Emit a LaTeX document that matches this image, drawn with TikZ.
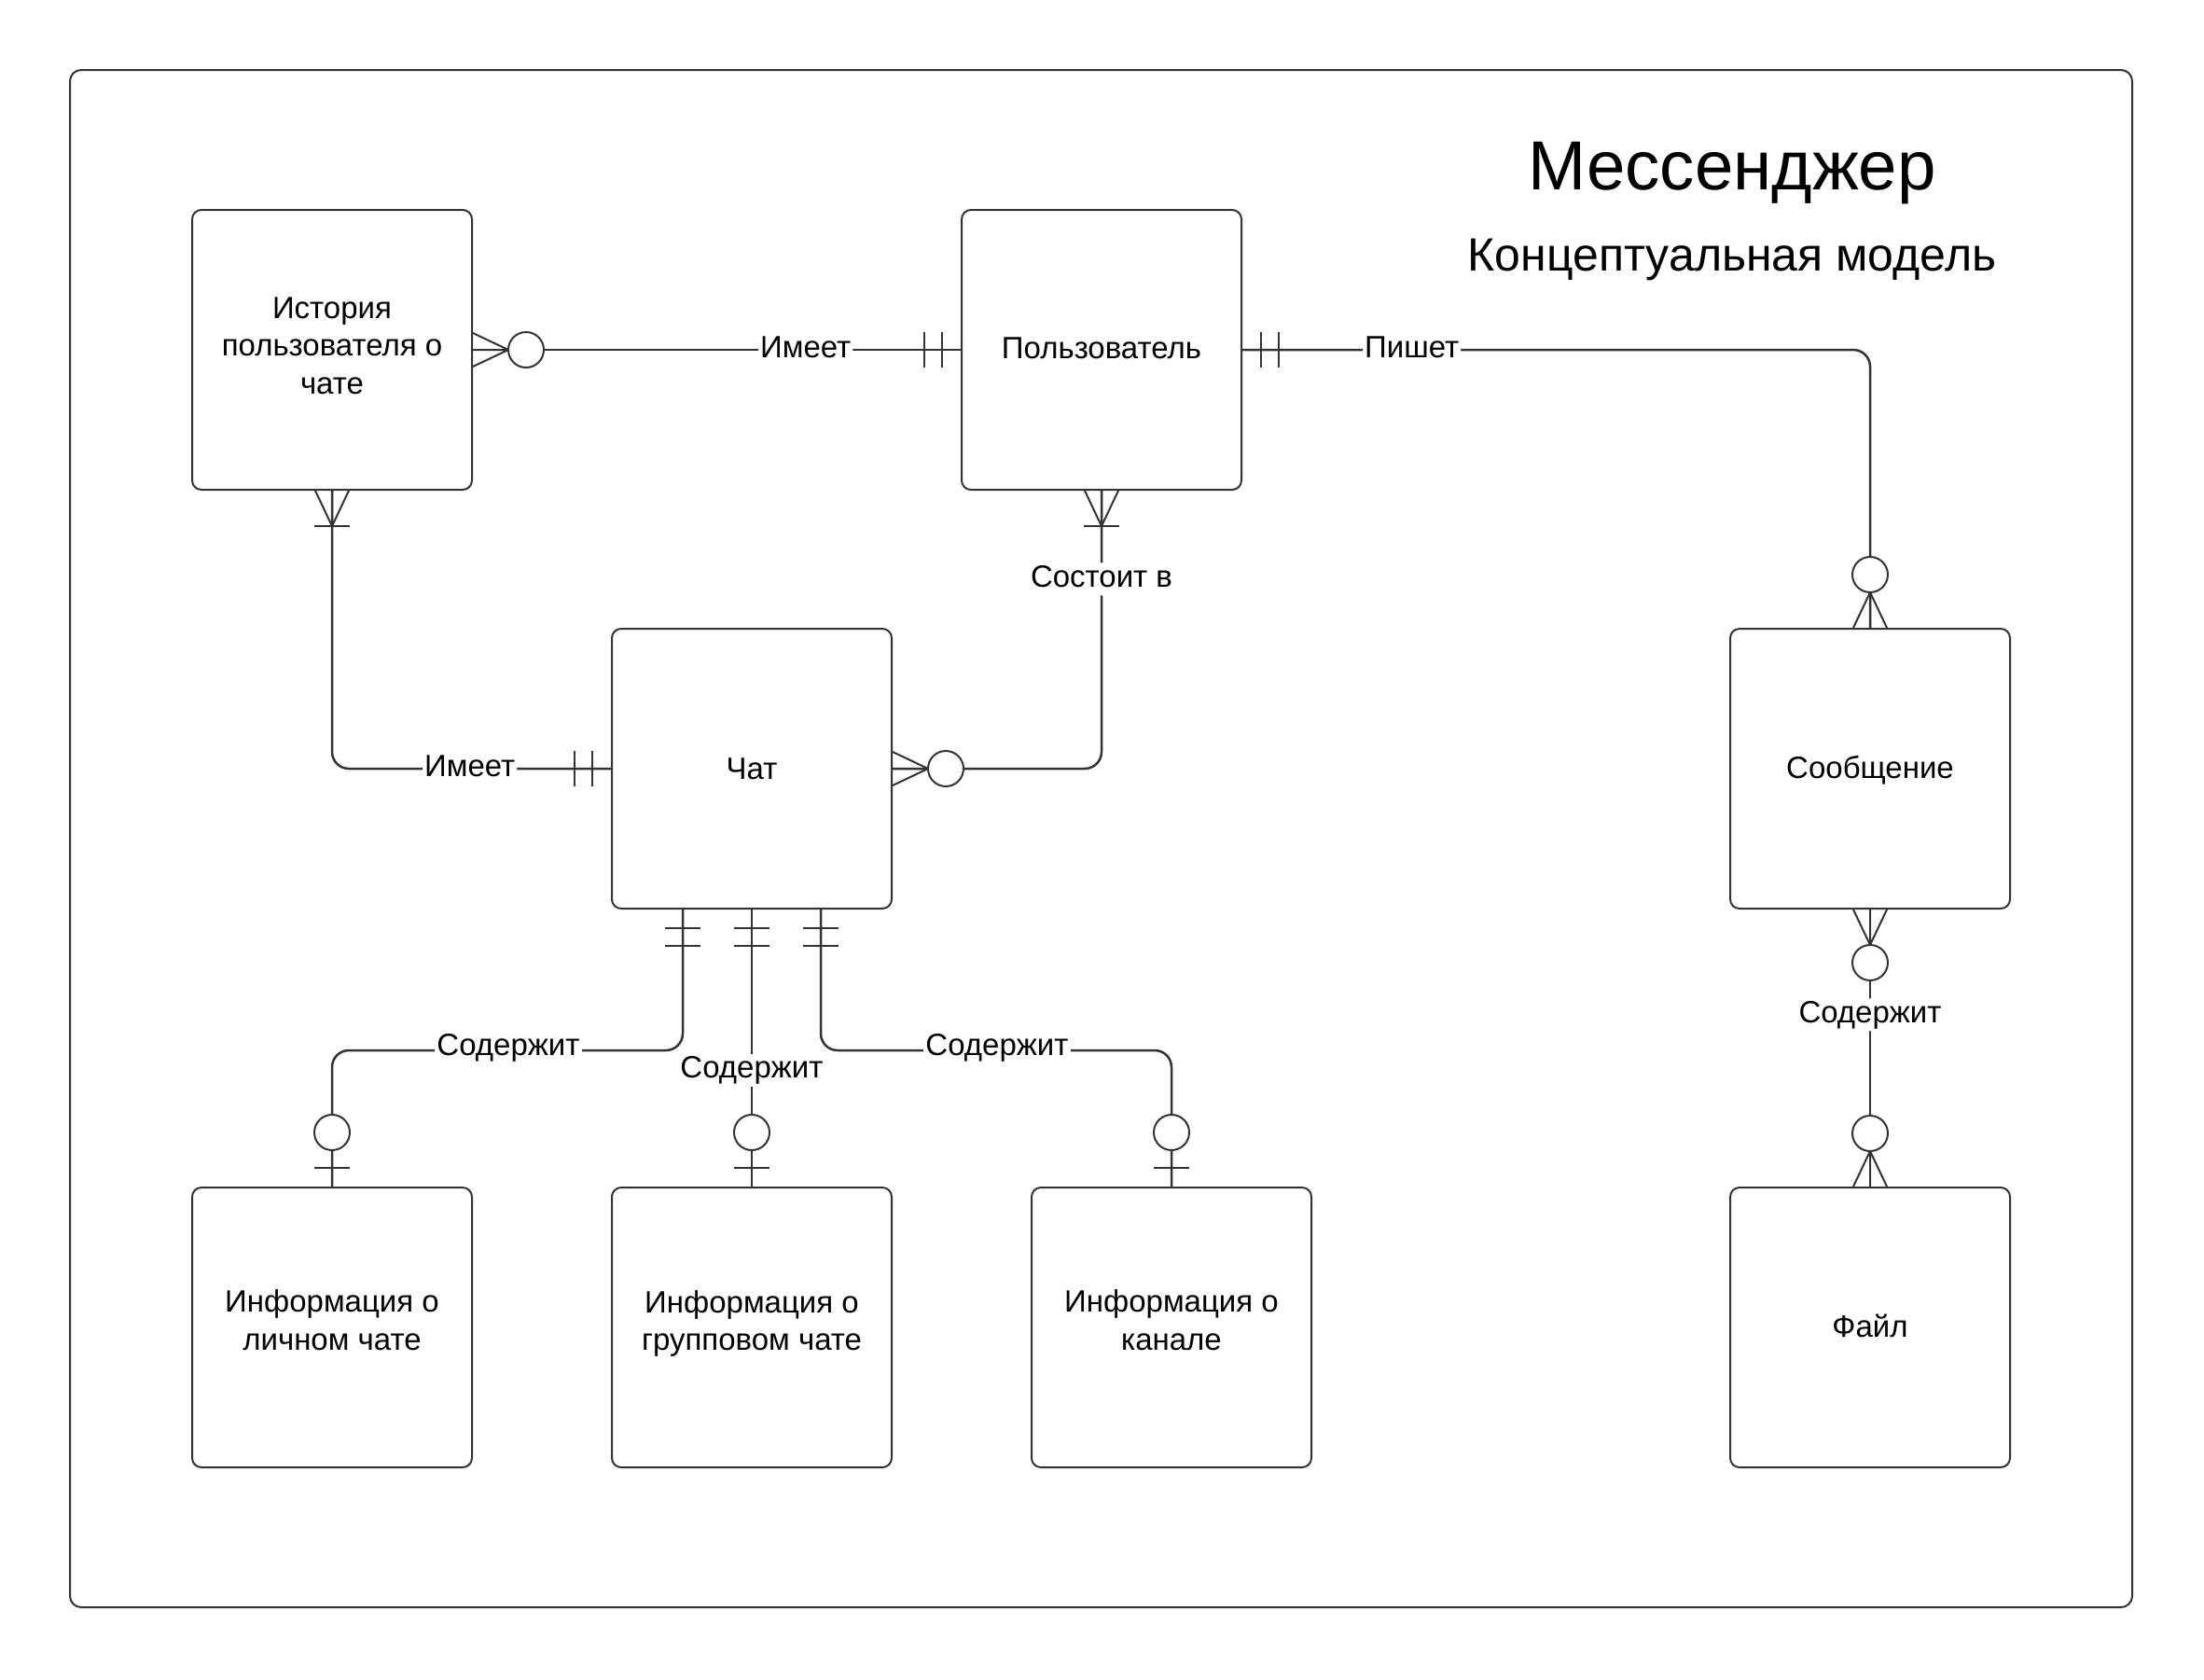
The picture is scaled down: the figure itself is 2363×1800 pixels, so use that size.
\documentclass[tikz,border=0pt]{standalone}
\usepackage{fontspec}
\setmainfont{Liberation Sans}
\usetikzlibrary{calc}
\definecolor{frame}{HTML}{333333}
\tikzset{
  mk/.style={draw=frame, line width=2pt},
  pics/onlyone/.style={code={
    \draw[mk] (20,-19) -- (20,19) (39,-19) -- (39,19);
  }},
  pics/zeroone/.style={code={
    \draw[mk] (20,-19) -- (20,19);
    \draw[mk, fill=white] (58,0) circle[radius=19pt];
  }},
  pics/onemany/.style={code={
    \draw[mk] (0,-18) -- (38,0) -- (0,18) (0,0) -- (38,0);
    \draw[mk] (38,-19) -- (38,19);
  }},
  pics/zeromany/.style={code={
    \draw[mk] (0,-18) -- (38,0) -- (0,18) (0,0) -- (38,0);
    \draw[mk, fill=white] (57,0) circle[radius=19pt];
  }},
}
\begin{document}
\begin{tikzpicture}[x=1pt, y=-1pt,
  ent/.style={draw=frame, line width=2pt, rounded corners=10pt,
    minimum width=300pt, minimum height=300pt, inner sep=0pt},
  etext/.style={align=center, font=\fontsize{33}{40.7}\selectfont, inner sep=0pt},
  conn/.style={draw=frame, line width=2.5pt, rounded corners=18pt},
  lbl/.style={fill=white, inner sep=2pt, font=\fontsize{33}{40}\selectfont,
    text height=24pt, text depth=7pt},
]
\useasboundingbox (0,0) rectangle (2363,1800);
\draw[draw=frame, line width=2pt, rounded corners=12pt] (75,75) rectangle (2286,1723);

\node[anchor=base] (title) at (1857,203) {\fontsize{74.5}{88}\selectfont Мессенджер};
\node[anchor=base] (subtitle) at (1857,290) {\fontsize{50}{60}\selectfont Концептуальная модель};

\node[ent] (hist)  at (356,375)  {};
\node[ent] (user)  at (1181,375) {};
\node[ent] (chat)  at (806,824)  {};
\node[ent] (msg)   at (2005,824) {};
\node[ent] (info1) at (356,1423) {};
\node[ent] (info2) at (806,1423) {};
\node[ent] (info3) at (1256,1423) {};
\node[ent] (file)  at (2005,1423) {};

\node[etext] (hist-t)  at ([yshift=4.5pt]hist.center)  {История\\пользователя о\\чате};
\node[etext] (user-t)  at ([yshift=1.5pt]user.center)  {Пользователь};
\node[etext] (chat-t)  at (chat.center)  {Чат};
\node[etext] (msg-t)   at ([yshift=-1.5pt]msg.center)   {Сообщение};
\node[etext] (info1-t) at ([yshift=7.5pt]info1.center) {Информация о\\личном чате};
\node[etext] (info2-t) at ([yshift=4pt]info2.center) {Информация о\\групповом чате};
\node[etext] (info3-t) at ([yshift=7.5pt]info3.center) {Информация о\\канале};
\node[etext] (file-t)  at ([yshift=1.5pt]file.center)  {Файл};

\coordinate (c1) at ([xshift=-74pt]chat.south);
\coordinate (c3) at ([xshift=74pt]chat.south);

\draw[conn] (hist.east) -- node[lbl, pos=0.682] (l1) {Имеет} (user.west);
\draw[conn] (hist.south) |- node[lbl, pos=0.747] (l2) {Имеет} (chat.west);
\draw[conn] (user.south) |- node[lbl, pos=0.159] (l3) {Состоит в} (chat.east);
\draw[conn] (user.east) -| node[lbl, pos=0.135] (l4) {Пишет} (msg.north);
\draw[conn] (c1) -- ++(0,151) -| (info1.north);
\draw[conn] (chat.south) -- (info2.north);
\draw[conn] (c3) -- ++(0,151) -| (info3.north);
\draw[conn] (msg.south) -- node[lbl, pos=0.38] (l8) {Содержит} (file.north);
\node[lbl] (l5) at (545,1123) {Содержит};
\node[lbl] (l6) at (806,1147) {Содержит};
\node[lbl] (l7) at (1069,1123) {Содержит};

\pic at (hist.east) {zeromany};
\pic[rotate=180] at (user.west) {onlyone};
\pic[rotate=-90] at (hist.south) {onemany};
\pic[rotate=180] at (chat.west) {onlyone};
\pic[rotate=-90] at (user.south) {onemany};
\pic at (chat.east) {zeromany};
\pic at (user.east) {onlyone};
\pic[rotate=90] at (msg.north) {zeromany};
\pic[rotate=-90] at (c1) {onlyone};
\pic[rotate=-90] at (chat.south) {onlyone};
\pic[rotate=-90] at (c3) {onlyone};
\pic[rotate=90] at (info1.north) {zeroone};
\pic[rotate=90] at (info2.north) {zeroone};
\pic[rotate=90] at (info3.north) {zeroone};
\pic[rotate=-90] at (msg.south) {zeromany};
\pic[rotate=90] at (file.north) {zeromany};
\end{tikzpicture}
\end{document}
